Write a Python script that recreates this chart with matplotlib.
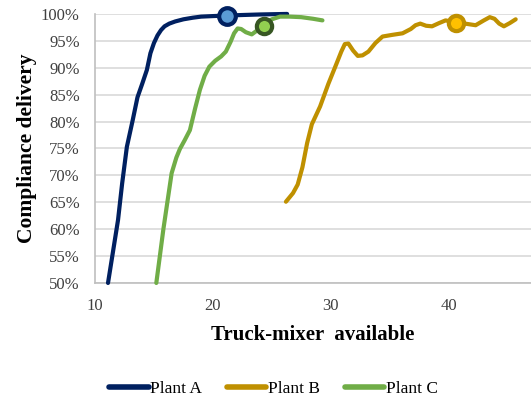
import matplotlib
matplotlib.use("Agg")
import matplotlib.pyplot as plt
from matplotlib.ticker import PercentFormatter

plt.rcParams['font.family'] = ['Liberation Serif', 'DejaVu Serif']

# Plant A
a_x = [11.1, 11.5, 11.95, 12.3, 12.7, 13.2, 13.6, 14.0, 14.4, 14.7, 15.0, 15.3, 15.6, 15.9, 16.3,
       16.8, 17.5, 18.3, 19.0, 20.0, 21.2, 22.5, 24.0, 26.3]
a_y = [50, 55.5, 61.7, 68.5, 75.3, 80.3, 84.5, 87, 89.6, 92.7, 94.6, 96.0, 97.0, 97.7, 98.2,
       98.6, 99.0, 99.3, 99.5, 99.6, 99.7, 99.8, 99.9, 100]
# Plant B
b_x = [26.2, 26.8, 27.2, 27.6, 28.0, 28.4, 29.1, 29.8, 30.5, 30.9, 31.2, 31.5, 31.9, 32.3, 32.7,
       33.2, 33.8, 34.4, 35.2, 36.1, 36.8, 37.2, 37.6, 38.1, 38.6, 39.2, 39.75, 40.6, 41.4,
       42.3, 43.0, 43.5, 43.9, 44.3, 44.7, 45.2, 45.7]
b_y = [65.1, 66.7, 68.3, 71.5, 76.0, 79.5, 82.8, 87, 90.8, 93.0, 94.4, 94.5, 93.2, 92.2, 92.3,
       93.0, 94.6, 95.8, 96.1, 96.4, 97.2, 97.9, 98.2, 97.8, 97.7, 98.3, 98.8, 98.4, 98.2,
       97.9, 98.8, 99.4, 99.1, 98.2, 97.7, 98.3, 99]
# Plant C
c_x = [15.2, 15.8, 16.5, 16.9, 17.2, 17.6, 18.05, 18.5, 18.9, 19.3, 19.7, 20.2, 20.7, 21.1,
       21.5, 21.8, 22.1, 22.4, 22.8, 23.3, 23.8, 24.3, 25.0, 25.7, 26.5, 27.5, 28.5, 29.3]
c_y = [50, 60, 70.4, 73.3, 74.9, 76.5, 78.4, 82.5, 85.9, 88.5, 90.2, 91.3, 92.1, 93.0,
       94.8, 96.4, 97.3, 97.2, 96.6, 96.2, 97.0, 97.8, 99.0, 99.5, 99.5, 99.4, 99.1, 98.8]

# highlighted points
mark_a = (21.2, 99.7)
mark_b = (40.6, 98.4)
mark_c = (24.3, 97.8)

navy, gold, green = '#002060', '#BF9000', '#70AD47'

fig = plt.figure(figsize=(5.31, 3.98), dpi=100)
ax = fig.add_axes([0.179, 0.289, 0.821, 0.676])

lw = 3.0
kw = dict(lw=lw, clip_on=False, solid_capstyle='round', solid_joinstyle='round', zorder=3)
ax.plot(a_x, a_y, color=navy, label='Plant A', **kw)
ax.plot(b_x, b_y, color=gold, label='Plant B', **kw)
ax.plot(c_x, c_y, color=green, label='Plant C', **kw)

ax.plot(*mark_a, 'o', ms=12, mfc='#5B9BD5', mec=navy, mew=3, clip_on=False, zorder=5)
ax.plot(*mark_c, 'o', ms=11, mfc='#92D050', mec='#375623', mew=3, clip_on=False, zorder=5)
ax.plot(*mark_b, 'o', ms=11, mfc='#FFC000', mec=gold, mew=3, clip_on=False, zorder=5)

ax.set_xlim(10, 47)
ax.set_ylim(50, 100)
ax.set_xticks([10, 20, 30, 40])
ax.set_yticks(range(50, 101, 5))
ax.yaxis.set_major_formatter(PercentFormatter(decimals=0))
ax.tick_params(axis='y', length=0, labelsize=12, colors='#404040', pad=11)
ax.tick_params(axis='x', length=0, labelsize=12, colors='#404040', pad=11)
ax.yaxis.grid(True, color='#D9D9D9', lw=1.2)
ax.set_axisbelow(True)
for s in ['top', 'right']:
    ax.spines[s].set_visible(False)
for s in ['left', 'bottom']:
    ax.spines[s].set_color('#BFBFBF')
    ax.spines[s].set_linewidth(1.2)

ax.set_xlabel('Truck-mixer  available', fontsize=15, fontweight='bold', labelpad=8)
ax.set_ylabel('Compliance delivery', fontsize=15.5, fontweight='bold', labelpad=3)

leg = fig.legend(loc='center', bbox_to_anchor=(0.515, 0.022), ncol=3, frameon=False,
                 fontsize=12.5, handlelength=2.3, handletextpad=0.1, columnspacing=1.4)
for h in leg.get_lines():
    h.set_linewidth(4)

fig.savefig('out.png', dpi=100)
